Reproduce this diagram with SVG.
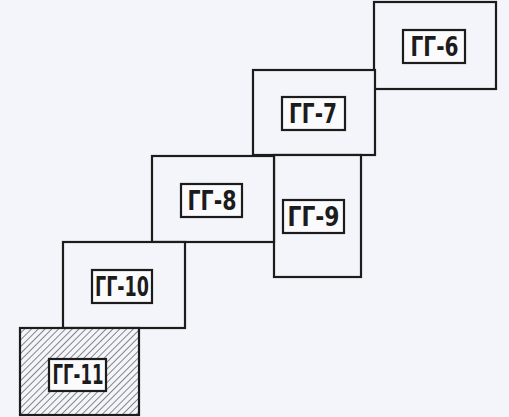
<svg xmlns="http://www.w3.org/2000/svg" width="509" height="417" viewBox="0 0 509 417">
<style>
.sheet{fill:#f4f5fa;stroke:#1c1c1c;stroke-width:2.2}
.tag{fill:#fbfbfd;stroke:#1c1c1c;stroke-width:2.2}
.lbl{font-family:"DejaVu Sans Condensed","DejaVu Sans",sans-serif;font-weight:bold;font-size:26px;fill:#1c1c1c;text-anchor:middle}
</style>
<defs>
<pattern id="hatch" patternUnits="userSpaceOnUse" width="4.8" height="4.8" patternTransform="rotate(45)">
<rect width="4.8" height="4.8" fill="#f4f5fa"/>
<line x1="0" y1="0" x2="0" y2="4.8" stroke="#2a2a2a" stroke-width="1.1"/>
</pattern>
</defs>
<rect width="509" height="417" fill="#f4f5fa"/>
<g id="connectors"></g>
<g id="GG-6">
<rect class="sheet" x="374" y="2" width="122" height="87"/>
<rect class="tag" x="403" y="30" width="62" height="33"/>
<text class="lbl" x="434.5" y="56" textLength="48" lengthAdjust="spacingAndGlyphs">ГГ-6</text>
</g>
<g id="GG-7">
<rect class="sheet" x="253" y="70" width="122" height="85"/>
<rect class="tag" x="282" y="97" width="63" height="33"/>
<text class="lbl" x="313" y="123" textLength="48" lengthAdjust="spacingAndGlyphs">ГГ-7</text>
</g>
<g id="GG-9">
<rect class="sheet" x="274" y="155" width="87" height="122"/>
<rect class="tag" x="283" y="200" width="61" height="33"/>
<text class="lbl" x="313.5" y="226" textLength="52" lengthAdjust="spacingAndGlyphs">ГГ-9</text>
</g>
<g id="GG-8">
<rect class="sheet" x="152" y="156" width="122" height="86"/>
<rect class="tag" x="181" y="184" width="61" height="33"/>
<text class="lbl" x="212" y="210" textLength="49" lengthAdjust="spacingAndGlyphs">ГГ-8</text>
</g>
<g id="GG-10">
<rect class="sheet" x="63" y="242" width="122" height="86"/>
<rect class="tag" x="92" y="270" width="60" height="33"/>
<text class="lbl" x="122" y="296" textLength="54" lengthAdjust="spacingAndGlyphs">ГГ-10</text>
</g>
<g id="GG-11">
<rect class="sheet" x="20" y="328" width="119" height="87" style="fill:url(#hatch)"/>
<rect class="tag" x="49" y="359" width="57" height="32"/>
<text class="lbl" x="78" y="384" textLength="51" lengthAdjust="spacingAndGlyphs">ГГ-11</text>
</g>
</svg>
